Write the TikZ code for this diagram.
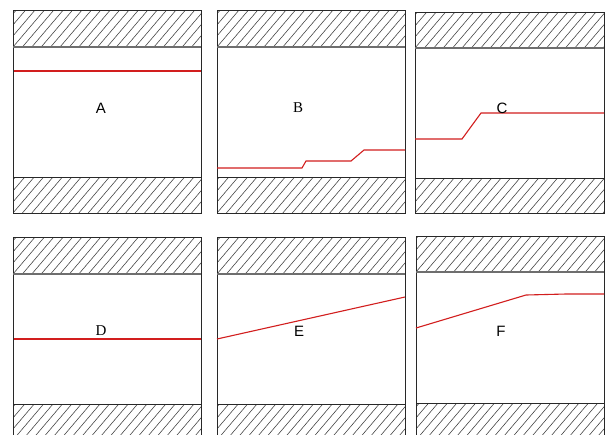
\documentclass[tikz,border=0pt]{standalone}
\usepackage{fontspec}
\setmainfont{Liberation Sans}
\newfontfamily\serifl{Liberation Serif}
\definecolor{redline}{RGB}{210,30,30}
\definecolor{framegray}{RGB}{40,40,40}
\definecolor{sepgray}{RGB}{110,110,110}
\definecolor{hatchgray}{RGB}{60,60,60}
\tikzset{
  frame/.style={draw=framegray, line width=0.9pt},
  sep/.style={draw=sepgray, line width=1.4pt},
  hatchline/.style={draw=hatchgray, line width=0.55pt},
  redpath/.style={draw=redline, line width=1.1pt},
  lab/.style={inner sep=0pt, font=\fontsize{15}{15}\selectfont},
  labs/.style={inner sep=0pt, font=\serifl\fontsize{15}{15}\selectfont}
}
\newcommand\hatchband[4]{%
  \begin{scope}
    \clip (#1,#3) rectangle (#2,#4);
    \foreach \k in {-6,...,24} {
      \draw[hatchline] ({#1+\k*9.4},#4) -- ++({0.85*(#4-#3)},{-(#4-#3)});
    }
  \end{scope}
}
% x0 x1 ytop yh1 yh2 ybot
\newcommand\panelbox[6]{%
  \hatchband{#1}{#2}{#3}{#4}
  \hatchband{#1}{#2}{#5}{#6}
  \draw[frame] (#1,#3) rectangle (#2,#6);
  \draw[sep] (#1,#4) -- (#2,#4);
  \draw[frame] (#1,#5) -- (#2,#5);
}
\begin{document}
\begin{tikzpicture}[x=1pt,y=-1pt]
\clip (0,0) rectangle (609,434);
\fill[white] (0,0) rectangle (609,434);
% top row
\panelbox{13}{201}{10}{47}{177}{213}
\panelbox{217}{405}{10}{47}{177}{213}
\panelbox{415}{604}{12}{48}{178}{213}
% bottom row
\panelbox{13}{201}{237}{274}{404}{440}
\panelbox{217}{405}{237}{274}{404}{440}
\panelbox{416}{604}{236}{272}{403}{440}
% red lines
\draw[redpath] (13.5,71) -- (200.5,71);
\draw[redpath] (217,168) -- (302,168) -- (306,161) -- (351,161) -- (364,150) -- (405,150);
\draw[redpath] (415,139) -- (462,139) -- (481,113) -- (604,113);
\draw[redpath] (13.5,339) -- (200.5,339);
\draw[redpath] (217,339) -- (405,297);
\draw[redpath] (416,328) -- (526,295) -- (566,294) -- (604,294);
% labels
\node[lab] (la) at (101,108) {A};
\node[labs] (lb) at (298,108) {B};
\node[lab] (lc) at (502,108.5) {C};
\node[labs] (ld) at (101,331) {D};
\node[lab] (le) at (299,331) {E};
\node[lab] (lf) at (501,331) {F};
\end{tikzpicture}
\end{document}
